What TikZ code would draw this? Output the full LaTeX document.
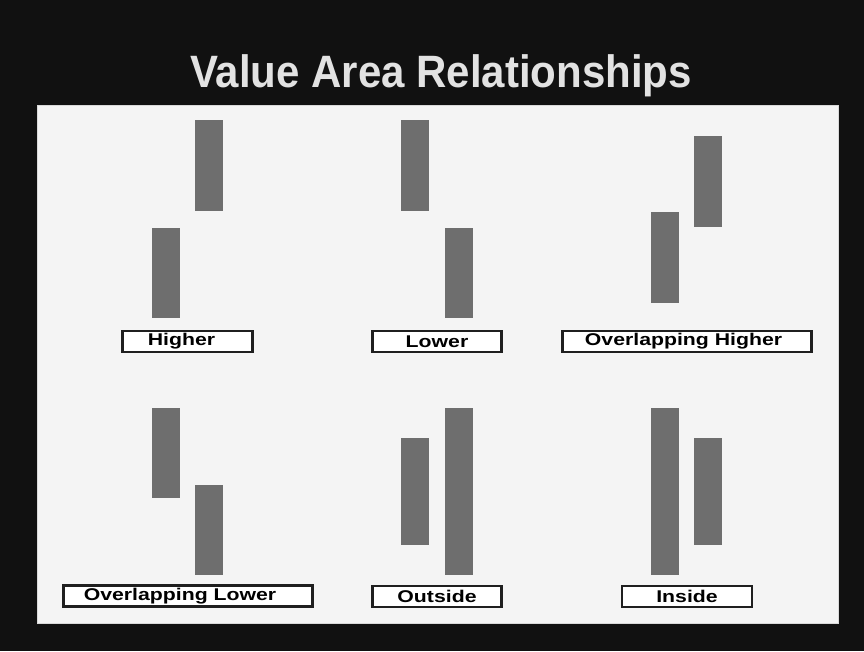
\documentclass[tikz,border=0pt]{standalone}
\usepackage{fontspec}
\setmainfont{Liberation Sans}
\usepackage{graphicx}
\usepackage{xcolor}
\usetikzlibrary{positioning}

\definecolor{slide}{HTML}{111111}
\definecolor{panel}{HTML}{F4F4F4}
\definecolor{barfill}{HTML}{6E6E6E}
\definecolor{titlegray}{HTML}{E2E2E2}

\newcommand{\widelabel}[1]{\scalebox{1.25}[1]{#1}}

\tikzset{
  bar/.style={rectangle, fill=barfill, inner sep=0pt, minimum width=28pt},
  tag/.style={rectangle, draw=black!88, line width=2.8pt, fill=white, inner sep=0pt,
    minimum height=21pt, font=\fontsize{17}{17}\selectfont\bfseries}
}

\begin{document}
\begin{tikzpicture}[x=1pt, y=-1pt]
    \useasboundingbox (0,0) rectangle (864,651);
    \fill[slide] (0,0) rectangle (864,651);
    \node[anchor=base, inner sep=0pt, font=\fontsize{42}{42}\selectfont\bfseries, text=titlegray] (title) at (441,87) {\scalebox{1}[1.08]{Value Area Relationships}};
    \node[rectangle, fill=panel, draw=white!85!black, line width=0.8pt, inner sep=0pt, minimum width=801pt, minimum height=518pt] (board) at (437.5,364) {};

    % higher
    \node[bar, minimum height=91pt] (hA) at (209,165.5) {};
    \node[bar, minimum height=90pt] (hB) at (166,273) {};
    \node[tag, minimum width=130pt] (higher) at (187.5,341.5) {\widelabel{Higher}\hspace*{12pt}};

    % lower
    \node[bar, minimum height=91pt] (lA) at (415,165.5) {};
    \node[bar, minimum height=90pt] (lB) at (459,273) {};
    \node[tag, minimum width=129pt] (lower) at (437,341.5) {\widelabel{Lower}};

    % overlapping higher
    \node[bar, minimum height=91pt] (ohA) at (665,257.5) {};
    \node[bar, minimum height=91pt] (ohB) at (708,181.5) {};
    \node[tag, minimum width=249pt] (ovhigher) at (687,341.5) {\widelabel{Overlapping Higher}\hspace*{7pt}};

    % overlapping lower
    \node[bar, minimum height=90pt] (olA) at (166,453) {};
    \node[bar, minimum height=90pt] (olB) at (209,530) {};
    \node[tag, minimum width=249pt] (ovlower) at (188,596) {\widelabel{Overlapping Lower}\hspace*{16pt}};

    % outside
    \node[bar, minimum height=107pt] (oA) at (415,491.5) {};
    \node[bar, minimum height=167pt] (oB) at (459,491.5) {};
    \node[tag, minimum width=129pt] (outside) at (437,596.5) {\widelabel{Outside}};

    % inside
    \node[bar, minimum height=167pt] (iA) at (665,491.5) {};
    \node[bar, minimum height=107pt] (iB) at (708,491.5) {};
    \node[tag, minimum width=130pt] (inside) at (687,596.5) {\widelabel{Inside}};
\end{tikzpicture}
\end{document}
